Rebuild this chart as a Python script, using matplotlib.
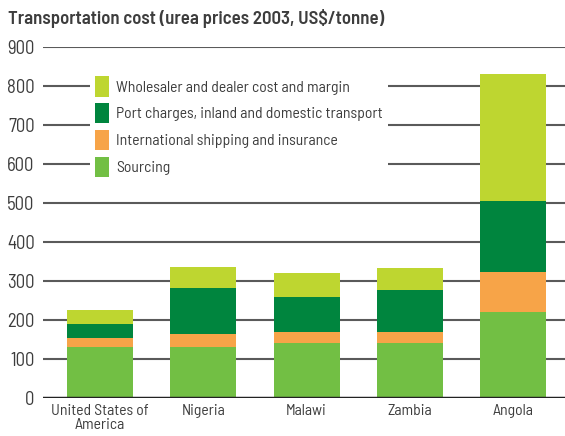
import matplotlib
matplotlib.use('Agg')
import matplotlib.pyplot as plt
import matplotlib.font_manager as fm
import numpy as np
from matplotlib.patches import Patch

# DIN-like condensed face if there is one, otherwise plain DejaVu
names = set(f.name for f in fm.fontManager.ttflist)
narrow = 'Barlow Semi Condensed' in names
if narrow:
    plt.rcParams['font.family'] = ['Barlow Semi Condensed', 'DejaVu Sans']
    fs_leg, fs_y, fs_x, fs_title = 11.3, 13.5, 11.3, 13.5
else:
    plt.rcParams['font.family'] = ['DejaVu Sans']
    fs_leg, fs_y, fs_x, fs_title = 9.8, 11, 9.5, 10.5

#---------------------DATA------------------------
countries = ['United States of\nAmerica', 'Nigeria', 'Malawi', 'Zambia', 'Angola']
sourcing = [131, 131, 140, 140, 220]
shipping = [24, 32, 30, 30, 104]
port = [35, 120, 90, 107, 182]
wholesale = [36, 54, 60, 56, 324]

series_names = ['Sourcing', 'International shipping and insurance',
                'Port charges, inland and domestic transport',
                'Wholesaler and dealer cost and margin']
colors = ['#72bf44', '#f7a448', '#00853e', '#bed630']
txt = '#3d3d3d'

fig = plt.figure(figsize=(5.65, 4.36), dpi=100)
ax = fig.add_axes([43/565, 1 - 398/436, (565 - 43)/565, (398 - 47)/436])

x = np.arange(len(countries))
bottom = np.zeros(len(countries))
for vals, c in zip([sourcing, shipping, port, wholesale], colors):
    ax.bar(x, vals, 0.64, bottom=bottom, color=c, zorder=3)
    bottom += np.array(vals)

ax.set_xlim(-0.55, 4.5)
ax.set_ylim(0, 900)
ax.set_yticks(np.arange(0, 901, 100))
for yv in np.arange(100, 901, 100):
    ax.axhline(yv, color='#5a5a5a', lw=1.5, zorder=1)
ax.axhline(0, color='#222222', lw=2.5, zorder=4)

for s in ax.spines.values():
    s.set_visible(False)
ax.tick_params(axis='y', length=0, pad=6, labelsize=fs_y, labelcolor=txt)
ax.tick_params(axis='x', length=0, pad=4, labelsize=fs_x, labelcolor=txt)
ax.set_xticks(x)
ax.set_xticklabels(countries, linespacing=1.0)

handles = [Patch(facecolor=c) for c in colors[::-1]]
leg = ax.legend(handles, series_names[::-1], loc='upper left',
                bbox_to_anchor=(47/522, 1 - 24/351), frameon=True,
                facecolor='white', edgecolor='none', framealpha=1,
                fontsize=fs_leg, handlelength=0.85, handleheight=1.6,
                handletextpad=0.45, labelspacing=0.42, borderpad=0.35,
                borderaxespad=0)
for t in leg.get_texts():
    t.set_color(txt)
leg.set_zorder(2)

fig.text(8/565, 1 - 18/436, 'Transportation cost (urea prices 2003, US$/tonne)',
         fontsize=fs_title, fontweight=600, color=txt, va='center', ha='left')

fig.savefig('out.png', dpi=100)
